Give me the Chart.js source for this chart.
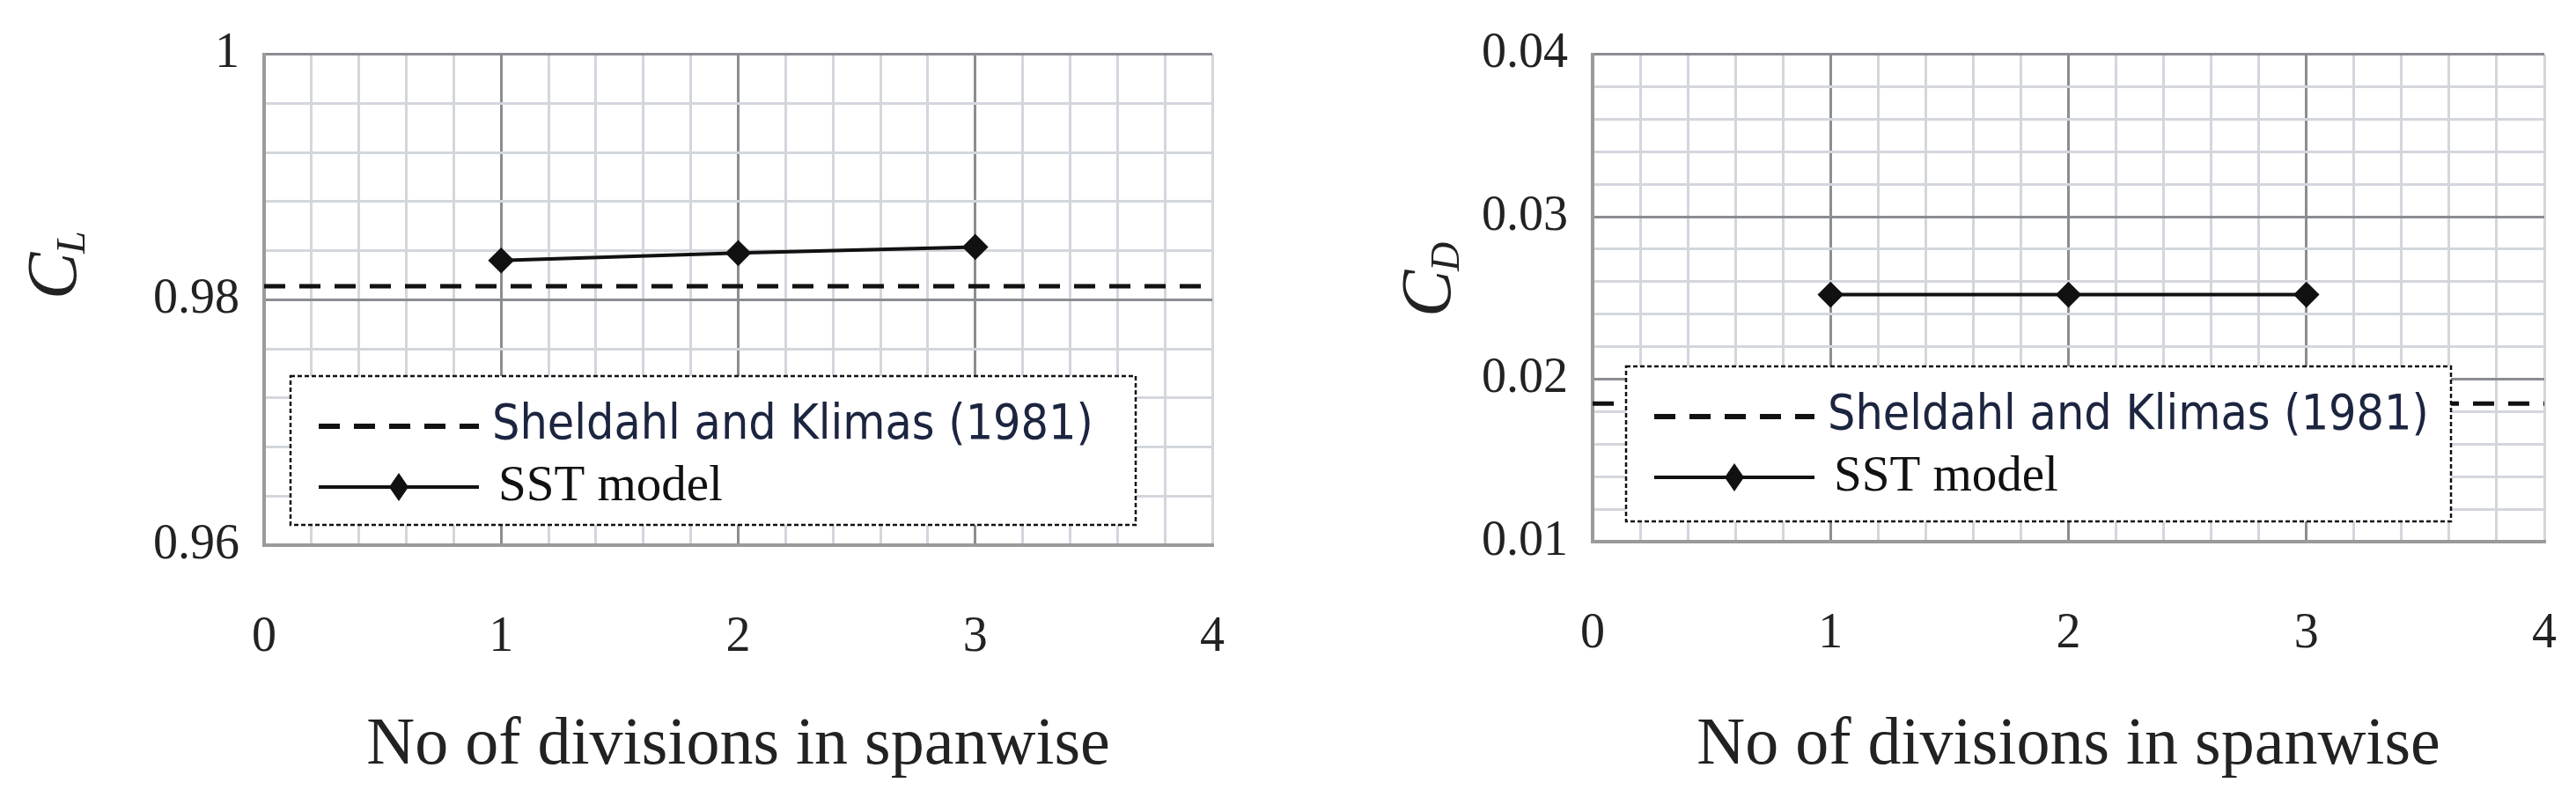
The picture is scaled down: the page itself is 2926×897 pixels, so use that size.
<!DOCTYPE html>
<html>
<head>
<meta charset="utf-8">
<script src="https://cdn.jsdelivr.net/npm/chart.js@4/dist/chart.umd.min.js"></script>
<style>
  body { margin: 0; background: #fff; width: 2926px; height: 897px; overflow: hidden; position: relative; }
  .box { position: absolute; top: 0; height: 897px; }
</style>
</head>
<body>
<div class="box" style="left:0;width:1463px"><canvas id="cl"></canvas></div>
<div class="box" style="left:1463px;width:1513px"><canvas id="cd"></canvas></div>
<script>
var divisions = [1, 2, 3];
var xTicks = [0, 1, 2, 3, 4];
var clSST = [0.9832, 0.9838, 0.9843];
var clExp = 0.9811;
var cdSST = [0.0252, 0.0252, 0.0252];
var cdExp = 0.0185;
var legendLabels = ['Sheldahl and Klimas (1981)', 'SST model'];

function isMajor(v, step) {
    return Math.abs(v / step - Math.round(v / step)) < 1e-6;
}

// dotted-box legend drawn over the plot like in the figure
var boxLegend = {
    id: 'boxLegend',
    afterDatasetsDraw: function(chart, args, opts) {
        var c = chart.ctx;
        var b = opts.box;
        c.save();
        c.fillStyle = '#fff';
        c.fillRect(b[0], b[1], b[2] - b[0], b[3] - b[1]);
        c.strokeStyle = '#111';
        c.lineWidth = 2.5;
        c.setLineDash([5, 3]);
        c.strokeRect(b[0], b[1], b[2] - b[0], b[3] - b[1]);
        var x0 = b[0] + 32, x1 = b[0] + 214;
        var y1 = b[1] + 57, y2 = b[1] + 126;
        c.lineWidth = 6;
        c.setLineDash([24, 16]);
        c.beginPath(); c.moveTo(x0, y1); c.lineTo(x1, y1); c.stroke();
        c.setLineDash([]);
        c.lineWidth = 4;
        c.beginPath(); c.moveTo(x0, y2); c.lineTo(x1, y2); c.stroke();
        var dx = (x0 + x1) / 2;
        c.fillStyle = '#111';
        c.beginPath();
        c.moveTo(dx, y2 - 16); c.lineTo(dx + 11, y2); c.lineTo(dx, y2 + 16); c.lineTo(dx - 11, y2);
        c.closePath(); c.fill();
        c.textBaseline = 'middle';
        c.fillStyle = '#1c2540';
        c.font = '55px "Liberation Sans Narrow", "DejaVu Sans Condensed", sans-serif';
        c.fillText(legendLabels[0], x1 + 15, y1);
        c.fillStyle = '#111';
        c.font = '57px "Liberation Serif", serif';
        c.fillText(legendLabels[1], x1 + 22, y2);
        c.restore();
    }
};

// italic C with subscript, rotated like the original axis title
var yTitle = {
    id: 'yTitle',
    afterDraw: function(chart, args, opts) {
        var c = chart.ctx;
        c.save();
        c.translate(opts.x, opts.y);
        c.rotate(-Math.PI / 2);
        c.fillStyle = '#222';
        c.textBaseline = 'alphabetic';
        c.font = 'italic 80px "Liberation Serif", serif';
        c.fillText('C', -30, 24);
        c.font = 'italic 46px "Liberation Serif", serif';
        c.fillText(opts.sub, 22, 34);
        c.restore();
    }
};

function makeChart(id, w, sst, exp, yMin, yMax, major, minor, area, legendBox, titlePos, sub) {
    var cv = document.getElementById(id);
    cv.width = w; cv.height = 897;
    new Chart(cv, {
        type: 'scatter',
        data: {
            datasets: [
                {
                    data: [{ x: 0, y: exp }, { x: 4, y: exp }],
                    showLine: true, borderColor: '#111', borderWidth: 5,
                    borderDash: [24, 16], pointRadius: 0
                },
                {
                    data: divisions.map(function(d, i) { return { x: d, y: sst[i] }; }),
                    showLine: true, borderColor: '#111', borderWidth: 4,
                    pointStyle: 'rectRot', pointRadius: 12,
                    pointBackgroundColor: '#111', pointBorderColor: '#111'
                }
            ]
        },
        options: {
            responsive: false,
            animation: false,
            events: [],
            layout: { padding: { left: 0, top: area.top, right: w - area.right, bottom: 0 } },
            plugins: {
                legend: { display: false },
                tooltip: { enabled: false },
                boxLegend: { box: legendBox },
                yTitle: { x: titlePos[0], y: titlePos[1], sub: sub }
            },
            scales: {
                x: {
                    min: 0, max: 4,
                    afterFit: function(s) { s.height = 897 - area.bottom; },
                    afterBuildTicks: function(s) {
                        var t = [];
                        for (var v = 0; v <= 20; v++) t.push({ value: v * 0.2 });
                        s.ticks = t;
                    },
                    grid: {
                        color: function(ctx) { return isMajor(ctx.tick.value, 1) && ctx.tick.value > 0 && ctx.tick.value < 4 ? '#8a8d92' : '#d3d6dd'; },
                        lineWidth: 3, drawTicks: false
                    },
                    border: { color: '#9a9a9a', width: 4 },
                    ticks: {
                        autoSkip: false, maxRotation: 0, padding: 72,
                        color: '#222', font: { family: '"Liberation Serif", serif', size: 56 },
                        callback: function(v) { return isMajor(v, 1) ? String(Math.round(v)) : ''; }
                    },
                    title: {
                        display: true, text: 'No of divisions in spanwise', color: '#222',
                        font: { family: '"Liberation Serif", serif', size: 76 }, padding: { top: 14 }
                    }
                },
                y: {
                    min: yMin, max: yMax,
                    afterFit: function(s) { s.width = area.left; },
                    afterBuildTicks: function(s) {
                        var t = [];
                        var n = Math.round((yMax - yMin) / minor);
                        for (var i = 0; i <= n; i++) t.push({ value: yMin + i * minor });
                        s.ticks = t;
                    },
                    grid: {
                        color: function(ctx) { return isMajor(ctx.tick.value, major) ? '#8a8d92' : '#d3d6dd'; },
                        lineWidth: 3, drawTicks: false
                    },
                    border: { color: '#9a9a9a', width: 4 },
                    ticks: {
                        autoSkip: false, padding: 28,
                        color: '#222', font: { family: '"Liberation Serif", serif', size: 56 },
                        callback: function(v) {
                            if (!isMajor(v, major)) return '';
                            return String(parseFloat(v.toFixed(4)));
                        }
                    }
                }
            }
        },
        plugins: [boxLegend, yTitle]
    });
}

makeChart('cl', 1463, clSST, clExp, 0.96, 1.0, 0.02, 0.004,
    { left: 300, top: 41, right: 1384, bottom: 619 },
    [330, 427, 1290, 596], [62, 310], 'L');
makeChart('cd', 1513, cdSST, cdExp, 0.01, 0.04, 0.01, 0.002,
    { left: 346, top: 41, right: 1434, bottom: 615 },
    [384, 416, 1321, 592], [160, 330], 'D');
</script>
</body>
</html>
